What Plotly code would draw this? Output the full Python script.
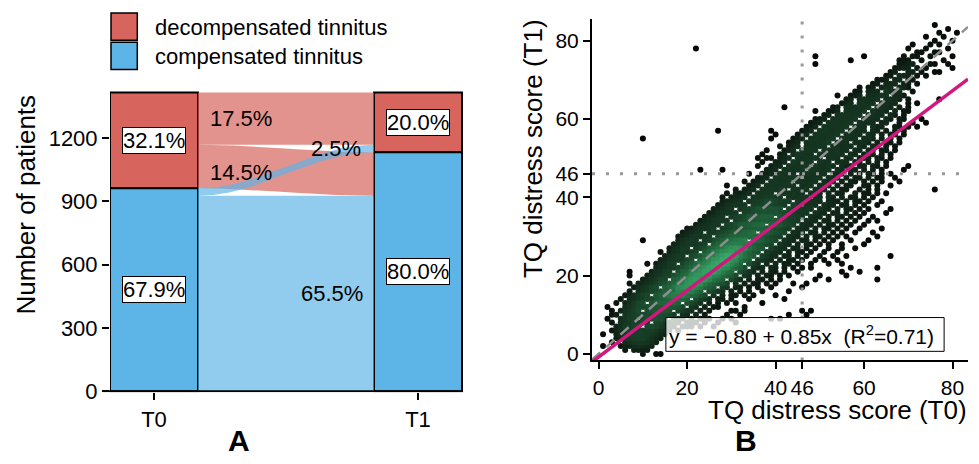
import numpy as np
import plotly.graph_objects as go

FONT = "Liberation Sans, Arial, Helvetica, sans-serif"
W, H = 979, 464

# ---------------- Panel A data ----------------
timepoints = ["T0", "T1"]
state_keys = ["decomp", "comp"]                       # top -> bottom
state_names = ["decompensated tinnitus", "compensated tinnitus"]
state_colors = ["#D7655E", "#5DB4E6"]
flow_colors = ["rgba(215,101,94,0.70)", "rgba(93,180,230,0.68)"]
flow_from = ["decomp", "decomp", "comp", "comp"]
flow_to = ["decomp", "comp", "decomp", "comp"]
flow_count = [248, 206, 35, 927]
ticks_a = [0, 300, 600, 900, 1200]

# ---------------- Panel B data ----------------
reg_intercept = -0.80
reg_slope = 0.85
reg_r2 = 0.71
cutoff = 46
ticks_b = [0, 20, 40, 46, 60, 80]

# TQ score at T1 (key) -> TQ scores at T0 that occur
scatter_rows = {
    0: "10,13,14", 1: "6,8-11", 2: "1,5-12", 3: "3,6-13", 4: "4-14",
    5: "1,4-15", 6: "3-16,18",
    7: "4-9,11-17,19-21,23,26",
    8: "3,5-11,13-18,20-22,24,27,31",
    9: "2,5-8,10-15,17-19,21,23-25,28,30,39,41",
    10: "3-4,6-12,14-17,19-20,22,24,29,32,43,47",
    11: "3,5-9,11-16,18-21,23,25,30-31,33,46,48",
    12: "2,6-13,15-19,21-22,24,26-27,33",
    13: "4,6-10,12-18,20-23,25,27,29,31,37",
    14: "5,7-14,16-20,22-25,27-28,30,34,42",
    15: "6-11,13-19,21-24,26,28,30-31,33,35,40",
    16: "7,9-16,18-23,25-28,30,32,34,37,43",
    17: "8-13,15-21,23-26,28-29,31-32,34,36,39,46",
    18: "7,9-17,19-24,26-29,31,33,35-36,38,40,44,47",
    19: "10-15,17-22,24-28,30-32,34,36-37,39,41,49,52,63",
    20: "7,11-18,20-25,27-31,33-34,36,38-39,41,43,50,56",
    21: "7,12-16,18-24,26-30,32-35,37,39-40,42,45,55,59",
    22: "13-20,22-27,29-33,35-37,39-40,42,44,46,48,57,63",
    23: "11,13-17,19-26,28-32,34-36,38,40,42-43,45,48,52,55",
    24: "14-21,23-28,30-34,36-39,41,43-44,46,49,51,54",
    25: "15-19,21-29,31-35,37-40,42-43,45,47,50,53,56,66",
    26: "14,16-22,24-30,32-36,38-41,43,45-46,48,51,54",
    27: "16-20,22-31,33-37,39-42,44-45,47,49,52,55,58",
    28: "17-24,26-32,34-39,41-43,45,47-48,50,52,55,60",
    29: "10,18-22,24-33,35-40,42-44,46-47,49,51,53,57,61",
    30: "18-25,27-34,36-41,43-45,47,49-50,52,54,56,63",
    31: "19-23,25-35,37-42,44-46,48-49,51,53,55,58,62",
    32: "20-26,28-36,38-43,45-47,49,51-52,54,56,59,64",
    33: "22-27,29-37,39-44,46-48,50,52-53,55,57,60",
    34: "23-29,31-38,40-45,47-49,51-52,54,56,58,61,63",
    35: "24-28,30-39,41-46,48-50,52,54-55,57,59,62",
    36: "25-31,33-40,42-47,49-51,53-54,56,58,60,65",
    37: "26-30,32-41,43-48,50-52,54,56-57,59,61,66",
    38: "27-33,35-42,44-49,51-53,55-56,58,60,63",
    39: "28-32,34-43,45-50,52-54,56,58-59,61,64",
    40: "28,30-33,35-41,43-47,49-50,52-53,55,57-58,60,62",
    41: "29,31-34,36-39,41-46,48-50,52,54-55,58,60-61,63,65",
    42: "31,33-35,37-42,44-47,49-51,53,55-56,59,61,63,76",
    43: "29,34-36,38-44,46-48,50-52,54,56-57,60-61,63,66",
    44: "33,35-37,39-43,45-49,51-53,55,57-58,60,62,64,68",
    45: "36-38,40-45,47-50,52-54,56,58-59,61,63-64,67",
    46: "34,37-39,41-44,46-51,53-55,57,59,61-62,64,66",
    47: "23,28,38-40,42-46,48-52,54-55,57-58,60,62,64,69",
    48: "36,39-41,43-47,49-53,55-57,59-60,62-63,65,70",
    49: "37,40-42,44-48,50-52,54-56,58-59,61,63,65",
    50: "36,38-39,41-43,45-50,52-54,56-57,59-61,63-64,66",
    51: "37,41-42,44-48,50-55,57-58,60,62,64,66",
    52: "38,42-44,46-49,51-56,58-59,61-62,64-65,67",
    53: "41,43-45,47-51,53-57,59-60,62-63,65,67",
    54: "43-45,47-52,54-56,58-61,63,65-66,68",
    55: "10,39,44-46,48-53,55-58,60-62,64,66,68",
    56: "40,45-47,49-54,56-59,61-62,64,66-67,69",
    57: "27,39,46-48,50-55,57-60,62-63,65,67,69",
    58: "47-49,51-56,58-60,62-64,67-68,70,72",
    59: "48-50,52-57,59-62,64-65,68,71,74",
    60: "49-51,53-58,60-63,65-66,68-69,73",
    61: "51-52,54-59,61-64,66-67,69",
    62: "49,52-54,56-60,62-65,67,69-70",
    63: "42,53-54,56-61,63-66,68,70",
    64: "55-57,59-62,64-67,70,72",
    65: "56-57,59-63,65-68,70,77",
    66: "54,57-59,61-65,67-69",
    67: "58-59,61-63,65-68,71",
    68: "59,61-62,64-66,68-70",
    69: "62-63,65-67,69-70,72",
    70: "63-65,67-68,70-71",
    71: "65-66,68-70,72,74",
    72: "66-67,70-71,73,76-77",
    73: "67-70,72,74,80", 74: "49,68-71,75-76,79", 75: "57,68-70,73,78",
    76: "49,60,69,71-72,75,80", 77: "72-73,76-77", 78: "22,70,74,79",
    79: "71,75,77", 80: "76,80", 81: "74,78", 82: "77,81", 83: "79", 84: "76",
}
# additional patients sharing the crowded (bright) central cells
crowd_rows = {
    10: "9-14", 12: "11-17", 14: "13-20", 15: "15-21", 16: "15-23",
    17: "17-24", 18: "17-26", 19: "19-27", 20: "19-29", 21: "21-30",
    22: "21-31", 23: "23-32", 24: "23-33", 25: "25-33", 26: "26-35",
    27: "27-36", 28: "28-37", 30: "30-39", 32: "32-40", 34: "34-42", 36: "37-43",
}


def parse(spec):
    out = []
    for part in spec.split(","):
        if "-" in part:
            a, b = part.split("-")
            out.extend(range(int(a), int(b) + 1))
        else:
            out.append(int(part))
    return out


xs, ys = [], []
for rows in (scatter_rows, crowd_rows):
    for yv, spec in rows.items():
        for xv in parse(spec):
            xs.append(xv)
            ys.append(yv)
xs = np.array(xs, float)
ys = np.array(ys, float)

# neighbour-count density (screen-like units)
X = xs * 4.43
Y = ys * 4.02
d2 = (X[:, None] - X[None, :]) ** 2 + (Y[:, None] - Y[None, :]) ** 2
dens = (d2 < 15.5 ** 2).sum(axis=1).astype(float)
order = np.argsort(dens, kind="stable")
xs, ys, dens = xs[order], ys[order], dens[order]

fig = go.Figure()

# ---------------- Panel A: alluvial ----------------
N = sum(flow_count)
bar_w = 1 / 3
t0_tot = {s: sum(c for f, c in zip(flow_from, flow_count) if f == s) for s in state_keys}
t1_tot = {s: sum(c for t, c in zip(flow_to, flow_count) if t == s) for s in state_keys}
t0_base = {"comp": 0, "decomp": t0_tot["comp"]}
t1_base = {"comp": 0, "decomp": t1_tot["comp"]}

pos0, pos1 = {}, {}
for s in state_keys:
    top = t0_base[s] + t0_tot[s]
    for dst in state_keys:
        for i, (f, t, c) in enumerate(zip(flow_from, flow_to, flow_count)):
            if f == s and t == dst:
                pos0[i] = (top - c, top)
                top -= c
    top = t1_base[s] + t1_tot[s]
    for src in state_keys:
        for i, (f, t, c) in enumerate(zip(flow_from, flow_to, flow_count)):
            if t == s and f == src:
                pos1[i] = (top - c, top)
                top -= c

xl, xr = 1 + bar_w / 2, 2 - bar_w / 2
tt = np.linspace(0, 1, 80)
ss = (1 - np.cos(np.pi * tt)) / 2
fx = xl + (xr - xl) * tt
for src in state_keys:
    for i in range(len(flow_count)):
        if flow_from[i] != src:
            continue
        b0, t0 = pos0[i]
        b1, t1 = pos1[i]
        top = t0 + (t1 - t0) * ss
        bot = b0 + (b1 - b0) * ss
        fig.add_trace(go.Scatter(
            x=np.concatenate([fx, fx[::-1]]), y=np.concatenate([top, bot[::-1]]),
            fill="toself", fillcolor=flow_colors[state_keys.index(src)],
            line=dict(width=0), mode="lines", hoverinfo="skip",
            showlegend=False, xaxis="x", yaxis="y"))

for k, s in enumerate(state_keys):
    fig.add_trace(go.Bar(
        x=[1, 2], y=[t0_tot[s], t1_tot[s]], base=[t0_base[s], t1_base[s]],
        width=bar_w, marker=dict(color=state_colors[k], line=dict(color="black", width=2)),
        showlegend=False, xaxis="x", yaxis="y", hoverinfo="skip"))

annotations = []
for s in state_keys:
    for xi, tot, base in ((1, t0_tot[s], t0_base[s]), (2, t1_tot[s], t1_base[s])):
        annotations.append(dict(
            x=xi, y=base + tot / 2, xref="x", yref="y", yanchor="middle",
            text=f"{100 * tot / N:.1f}%", showarrow=False,
            font=dict(family=FONT, size=22, color="black"),
            bgcolor="white", bordercolor="black", borderwidth=1, borderpad=0))

pct = [f"{100 * c / N:.1f}%" for c in flow_count]
flow_label_pos = [(1.203, 1293, "left"), (1.203, 1035, "left"),
                  (1.792, 1150, "right"), (1.799, 463, "right")]
for lab, (lx, ly, anc) in zip(pct, flow_label_pos):
    annotations.append(dict(x=lx, y=ly, xref="x", yref="y", text=lab, showarrow=False,
                            xanchor=anc, yanchor="middle",
                            font=dict(family=FONT, size=22, color="black")))

# ---------------- Panel B: scatter ----------------
fig.add_trace(go.Scatter(
    x=xs, y=ys, mode="markers", xaxis="x2", yaxis="y2", hoverinfo="skip",
    marker=dict(size=6, color=dens, cmin=0, cmax=dens.max(),
                colorscale=[[0, "#060706"], [0.25, "#0d1a11"], [0.5, "#173d26"],
                            [0.75, "#22693e"], [1, "#38a869"]],
                line=dict(width=0)),
    showlegend=False))

xline = np.array([-1.5, 83.5])
fig.add_trace(go.Scatter(x=[cutoff, cutoff], y=[-1.67, 85.4], mode="lines", xaxis="x2", yaxis="y2",
                         line=dict(color="#999999", width=3, dash="3px,11px"), showlegend=False, hoverinfo="skip"))
fig.add_trace(go.Scatter(x=[-1.5, 83.5], y=[cutoff, cutoff], mode="lines", xaxis="x2", yaxis="y2",
                         line=dict(color="#999999", width=3, dash="3px,11px"), showlegend=False, hoverinfo="skip"))
fig.add_trace(go.Scatter(x=xline, y=xline, mode="lines", xaxis="x2", yaxis="y2",
                         line=dict(color="#8f8f8f", width=2.5, dash="11px,8px"), showlegend=False, hoverinfo="skip"))
fig.add_trace(go.Scatter(x=xline, y=reg_intercept + reg_slope * xline, mode="lines", xaxis="x2", yaxis="y2",
                         line=dict(color="#D2187D", width=3.5), showlegend=False, hoverinfo="skip"))

shapes = [
    dict(type="rect", xref="x2", yref="y2", x0=15.2, x1=78.1, y0=0.65, y1=9.28,
         fillcolor="rgba(255,255,255,0.78)", line=dict(color="black", width=1), layer="above"),
    dict(type="line", xref="paper", yref="y", x0=103 / W, x1=463 / W, y0=0, y1=0,
         line=dict(color="black", width=2), layer="above"),
]
sign = "−" if reg_intercept < 0 else "+"
annotations.append(dict(
    x=15.5, y=4.9, xref="x2", yref="y2", xanchor="left", yanchor="middle", showarrow=False,
    text=f"y = {sign}{abs(reg_intercept):.2f} + {reg_slope:.2f}x  (R<sup>2</sup>={reg_r2:.2f})",
    font=dict(family=FONT, size=21, color="black")))

# legend (manual)
for k in range(2):
    y0 = [13.3, 43.3][k]
    shapes.append(dict(type="rect", xref="paper", yref="paper",
                       x0=111 / W, x1=137.3 / W, y0=1 - (y0 + 28) / H, y1=1 - y0 / H,
                       fillcolor=state_colors[k], line=dict(color="black", width=1.5)))
    annotations.append(dict(x=153 / W, y=1 - (y0 + 14.5) / H, xref="paper", yref="paper",
                            xanchor="left", yanchor="middle", showarrow=False, text=state_names[k],
                            font=dict(family=FONT, size=22, color="black")))

annotations += [
    dict(x=26 / W, y=1 - 210 / H, xref="paper", yref="paper", text="Number of patients",
         textangle=-90, showarrow=False, xanchor="center", yanchor="middle",
         font=dict(family=FONT, size=26, color="black")),
    dict(x=533 / W, y=1 - 18 / H, xref="paper", yref="paper", text="TQ distress score (T1)",
         textangle=-90, showarrow=False, xanchor="center", yanchor="top",
         font=dict(family=FONT, size=26, color="black")),
    dict(x=969 / W, y=1 - 421 / H, xref="paper", yref="paper", text="TQ distress score (T0)",
         xanchor="right", yanchor="middle", showarrow=False,
         font=dict(family=FONT, size=26, color="black")),
    dict(x=239 / W, y=1 - 452 / H, xref="paper", yref="paper", text="<b>A</b>",
         xanchor="center", yanchor="middle", showarrow=False,
         font=dict(family=FONT, size=30, color="black")),
    dict(x=746 / W, y=1 - 452 / H, xref="paper", yref="paper", text="<b>B</b>",
         xanchor="center", yanchor="middle", showarrow=False,
         font=dict(family=FONT, size=30, color="black")),
]

k_a = 0.2166
tickfont = dict(family=FONT, size=22, color="black")
tickfont_b = dict(family=FONT, size=21, color="black")
fig.update_layout(
    width=W, height=H, autosize=False, margin=dict(l=0, r=0, t=0, b=0),
    paper_bgcolor="white", plot_bgcolor="rgba(0,0,0,0)", barmode="overlay",
    showlegend=False, shapes=shapes, annotations=annotations,
    xaxis=dict(domain=[110 / W, 463 / W], range=[0.8333, 2.1705], tickvals=[1, 2], ticktext=timepoints,
               ticks="outside", ticklen=7, tickwidth=2, tickcolor="black", showline=False,
               showgrid=False, zeroline=False, tickfont=tickfont, anchor="y"),
    yaxis=dict(domain=[1 - (401.7 + 5 * k_a) / H, 1 - (401.7 - 1430 * k_a) / H], range=[-5, 1430],
               tickvals=ticks_a, ticks="outside", ticklen=7, tickwidth=2, tickcolor="black",
               showline=False, showgrid=False, zeroline=False, tickfont=tickfont, anchor="x"),
    xaxis2=dict(domain=[592 / W, 968 / W], range=[-1.5, 83.5], tickvals=ticks_b,
                ticks="outside", ticklen=7, tickwidth=2, tickcolor="black", showline=True,
                linewidth=2, linecolor="black", showgrid=False, zeroline=False, tickfont=tickfont_b,
                anchor="y2"),
    yaxis2=dict(domain=[1 - 370 / H, 1 - 20 / H], range=[-1.67, 85.4], tickvals=ticks_b,
                ticks="outside", ticklen=7, tickwidth=2, tickcolor="black", showline=True,
                linewidth=2, linecolor="black", showgrid=False, zeroline=False, tickfont=tickfont_b,
                anchor="x2"),
)

fig.write_html("out.html", config={"displayModeBar": False},
               post_script="document.body.style.margin='0px';"
                           "document.documentElement.style.overflow='hidden';")
